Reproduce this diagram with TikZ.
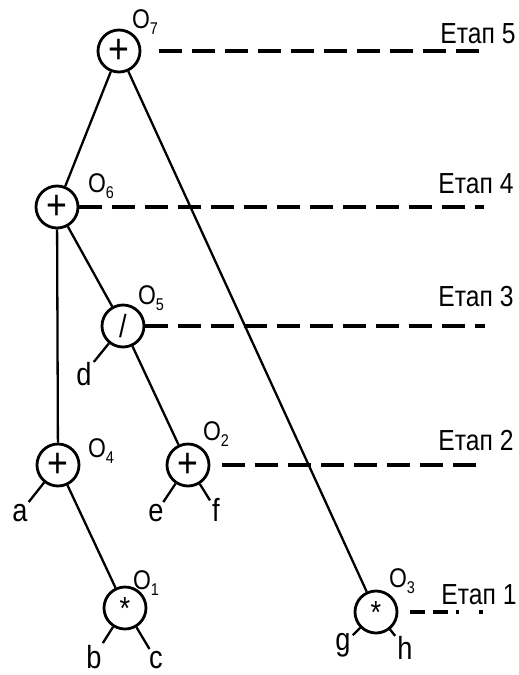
\documentclass[tikz,border=0pt]{standalone}
\usepackage{fontspec}
\setmainfont{Liberation Sans}[FakeStretch=0.85]
\usepackage{tikz}
\usetikzlibrary{positioning}
\newcommand{\opname}[1]{O\raisebox{-0.4ex}{\fontsize{17}{17}\selectfont #1}}

\begin{document}
\begin{tikzpicture}[x=1pt, y=-1pt,
    op/.style={circle, draw, line width=2.8pt, minimum size=42pt, inner sep=0pt, font=\fontsize{32}{32}\selectfont},
    plusop/.style={op, font=\fontsize{42}{42}\selectfont},
    leaf/.style={inner sep=2pt, font=\fontsize{32}{32}\selectfont},
    opl/.style={inner sep=0pt, font=\fontsize{27}{27}\selectfont},
    stagel/.style={inner sep=0pt, font=\fontsize{29}{29}\selectfont},
    link/.style={line width=2.3pt},
    stageline/.style={line width=3.2pt, dash pattern=on 23pt off 10pt}]
    \useasboundingbox (0,0) rectangle (519,675);

    % Operations
    \node[plusop] (o7) at (119,51) {+};
    \node[plusop] (o6) at (57,207) {+};
    \node[op] (o5) at (123,326) {/};
    \node[plusop] (o4) at (58,465) {+};
    \node[plusop] (o2) at (188,465) {+};
    \node[op] (o1) at (125,608) {*};
    \node[op] (o3) at (376,612) {*};

    % Operation names
    \node[opl] (n7) at (145,22) {\opname{7}};
    \node[opl] (n6) at (101,186) {\opname{6}};
    \node[opl] (n5) at (151,298) {\opname{5}};
    \node[opl] (n4) at (101,451) {\opname{4}};
    \node[opl] (n2) at (216,434) {\opname{2}};
    \node[opl] (n1) at (146,583) {\opname{1}};
    \node[opl] (n3) at (402,581) {\opname{3}};

    % Operands
    \node[leaf] (d) at (84,374) {d};
    \node[leaf] (a) at (20,513) {a};
    \node[leaf] (e) at (156,513) {e};
    \node[leaf] (f) at (216,510) {f};
    \node[leaf] (b) at (94,657) {b};
    \node[leaf] (c) at (156,660) {c};
    \node[leaf] (g) at (343,645) {g};
    \node[leaf] (h) at (405,648) {h};

    % Tree
    \draw[link] (o7) -- (o6);
    \draw[link] (o7) -- (o3);
    \draw[link] (o6) -- (o4);
    \draw[link] (o6) -- (o5);
    \draw[link] (o5) -- (o2);
    \draw[link] (o5) -- (d);
    \draw[link] (o4) -- (a);
    \draw[link] (o4) -- (o1);
    \draw[link] (o2) -- (e);
    \draw[link] (o2) -- (f);
    \draw[link] (o1) -- (b);
    \draw[link] (o1) -- (c);
    \draw[link] (o3) -- (g);
    \draw[link] (o3) -- (h);

    % Stages
    \coordinate (s5) at (487,51);
    \coordinate (s4) at (484,207);
    \coordinate (s3) at (485,326);
    \coordinate (s2) at (483,465);
    \coordinate (s1) at (483,612);
    \draw[stageline, shorten <=18pt] (o7) -- (s5);
    \draw[stageline] (o6) -- (s4);
    \draw[stageline] (o5) -- (s3);
    \draw[stageline, line width=4pt, shorten <=12pt] (o2) -- (s2);
    \draw[stageline, line width=3.6pt, dash pattern=on 15pt off 8pt on 15pt off 8pt on 3pt off 20pt, shorten <=12pt] (o3) -- (s1);

    \node[stagel] (t5) at (478,34) {Етап 5};
    \node[stagel] (t4) at (476,184) {Етап 4};
    \node[stagel] (t3) at (476,297) {Етап 3};
    \node[stagel] (t2) at (476,441) {Етап 2};
    \node[stagel] (t1) at (479,595) {Етап 1};
\end{tikzpicture}
\end{document}
